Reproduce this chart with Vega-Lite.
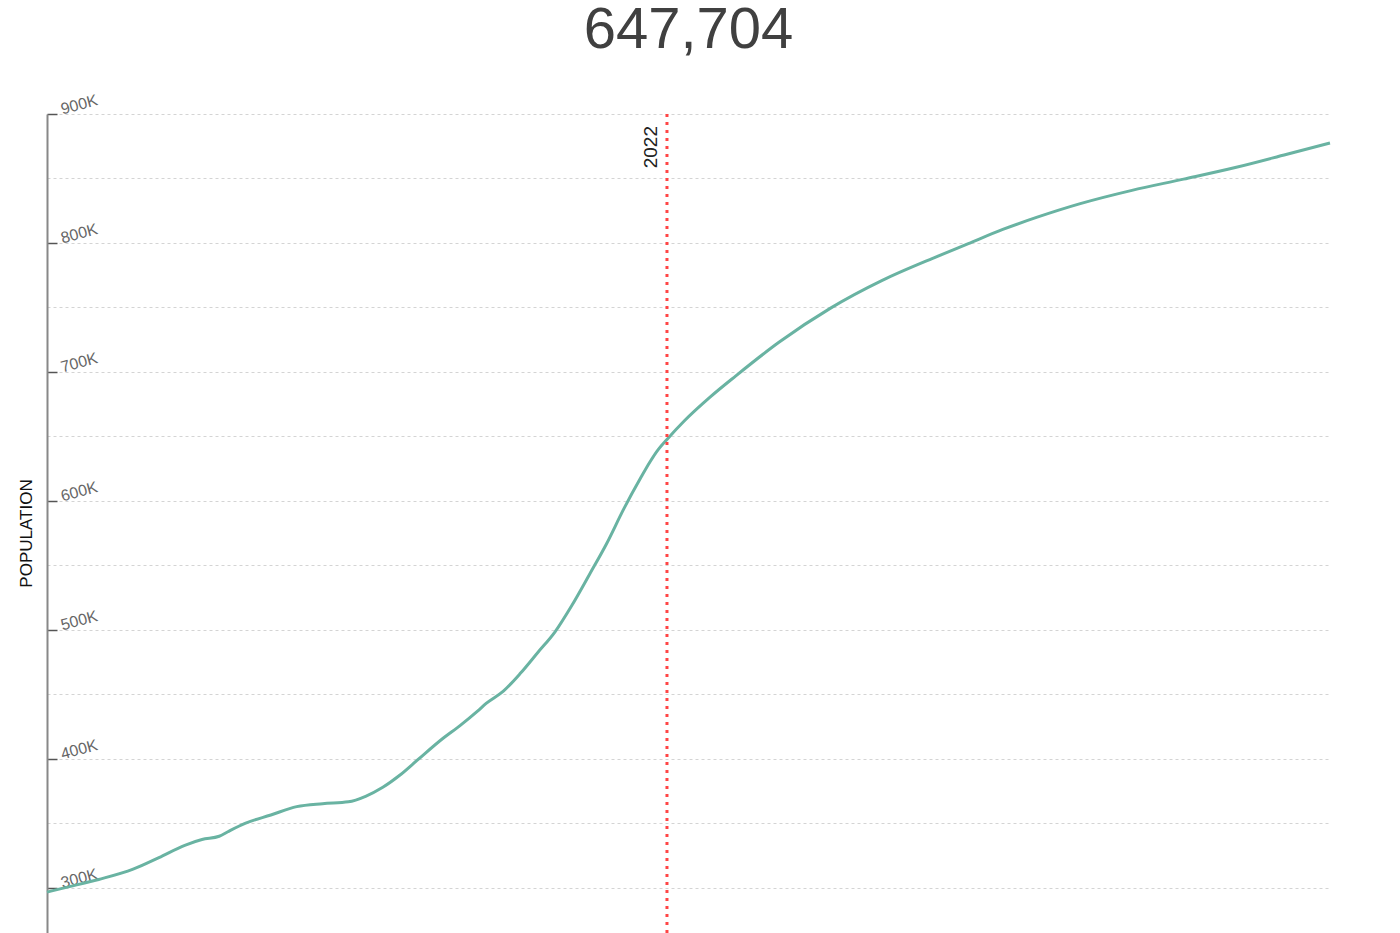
{
  "$schema": "https://vega.github.io/schema/vega-lite/v6.json",
  "autosize": "none",
  "width": 1283,
  "height": 819,
  "padding": {"left": 47, "top": 114, "right": 70, "bottom": 0},
  "background": "white",
  "title": {
    "text": "647,704",
    "font": "Liberation Sans",
    "fontSize": 58,
    "fontWeight": "normal",
    "color": "#404040",
    "anchor": "middle",
    "frame": "group",
    "baseline": "alphabetic",
    "offset": -14
  },
  "config": {
    "view": {"stroke": null},
    "font": "Liberation Sans"
  },
  "datasets": {
    "population": [
      {"year": 1950, "population": 296700},
      {"year": 1952, "population": 300000},
      {"year": 1956, "population": 306500},
      {"year": 1960, "population": 314500},
      {"year": 1963, "population": 323500},
      {"year": 1966, "population": 333000},
      {"year": 1968, "population": 337500},
      {"year": 1970, "population": 340000},
      {"year": 1971, "population": 343500},
      {"year": 1973, "population": 350000},
      {"year": 1976, "population": 356500},
      {"year": 1979, "population": 363000},
      {"year": 1982, "population": 365300},
      {"year": 1985, "population": 366700},
      {"year": 1987, "population": 371000},
      {"year": 1989, "population": 378000},
      {"year": 1991, "population": 387500},
      {"year": 1993, "population": 399000},
      {"year": 1996, "population": 416000},
      {"year": 1998, "population": 426000},
      {"year": 2000, "population": 437000},
      {"year": 2001, "population": 443000},
      {"year": 2003, "population": 452500},
      {"year": 2005, "population": 466500},
      {"year": 2007, "population": 482500},
      {"year": 2009, "population": 498500},
      {"year": 2011, "population": 519500},
      {"year": 2013, "population": 543000},
      {"year": 2015, "population": 567000},
      {"year": 2017, "population": 594000},
      {"year": 2019, "population": 618500},
      {"year": 2020, "population": 630000},
      {"year": 2021, "population": 640000},
      {"year": 2022, "population": 647704},
      {"year": 2024, "population": 662000},
      {"year": 2027, "population": 680500},
      {"year": 2030, "population": 697000},
      {"year": 2035, "population": 723000},
      {"year": 2041, "population": 749500},
      {"year": 2047, "population": 771000},
      {"year": 2053, "population": 788500},
      {"year": 2057, "population": 799500},
      {"year": 2061, "population": 810500},
      {"year": 2065, "population": 820000},
      {"year": 2070, "population": 830500},
      {"year": 2076, "population": 840800},
      {"year": 2082, "population": 849500},
      {"year": 2088, "population": 858500},
      {"year": 2094, "population": 868800},
      {"year": 2099, "population": 877500}
    ],
    "marker": [
      {"year": 2022, "label": "2022"}
    ]
  },
  "layer": [
    {
      "data": {"name": "population"},
      "mark": {
        "type": "line",
        "color": "#69b3a2",
        "strokeWidth": 3,
        "interpolate": "monotone"
      },
      "encoding": {
        "x": {
          "field": "year",
          "type": "quantitative",
          "scale": {"domain": [1950, 2099], "nice": false, "zero": false},
          "axis": null
        },
        "y": {
          "field": "population",
          "type": "quantitative",
          "scale": {"domain": [265000, 900000], "nice": false, "zero": false},
          "axis": {
            "title": "POPULATION",
            "titleFont": "Liberation Sans",
            "titleFontSize": 17,
            "titleFontWeight": "normal",
            "titleColor": "#111",
            "titleX": -12,
            "titleY": 419,
            "values": [300000, 350000, 400000, 450000, 500000, 550000, 600000, 650000, 700000, 750000, 800000, 850000, 900000],
            "labelExpr": "datum.value % 100000 === 0 ? format(datum.value / 1000, 'd') + 'K' : ''",
            "labelAngle": -15,
            "labelAlign": "left",
            "labelBaseline": "alphabetic",
            "labelPadding": -5,
            "labelFontSize": 16,
            "labelColor": "#666",
            "labelFlush": false,
            "labelOverlap": false,
            "tickSize": -10,
            "tickWidth": 1.5,
            "tickColor": "#555",
            "tickOpacity": {"condition": {"test": "datum.value % 100000 === 0", "value": 1}, "value": 0},
            "domainColor": "#888",
            "domainWidth": 2,
            "grid": true,
            "gridColor": "#d4d4d4",
            "gridDash": [3, 3],
            "gridWidth": 1
          }
        }
      }
    },
    {
      "data": {"name": "marker"},
      "mark": {
        "type": "rule",
        "color": "#ff4545",
        "strokeWidth": 3,
        "strokeDash": [3, 5]
      },
      "encoding": {
        "x": {"field": "year", "type": "quantitative"}
      }
    },
    {
      "data": {"name": "marker"},
      "mark": {
        "type": "text",
        "angle": 270,
        "align": "right",
        "baseline": "alphabetic",
        "dx": -12,
        "dy": -10,
        "fontSize": 19,
        "color": "#222"
      },
      "encoding": {
        "x": {"field": "year", "type": "quantitative"},
        "y": {"datum": 900000, "type": "quantitative"},
        "text": {"field": "label"}
      }
    }
  ]
}
